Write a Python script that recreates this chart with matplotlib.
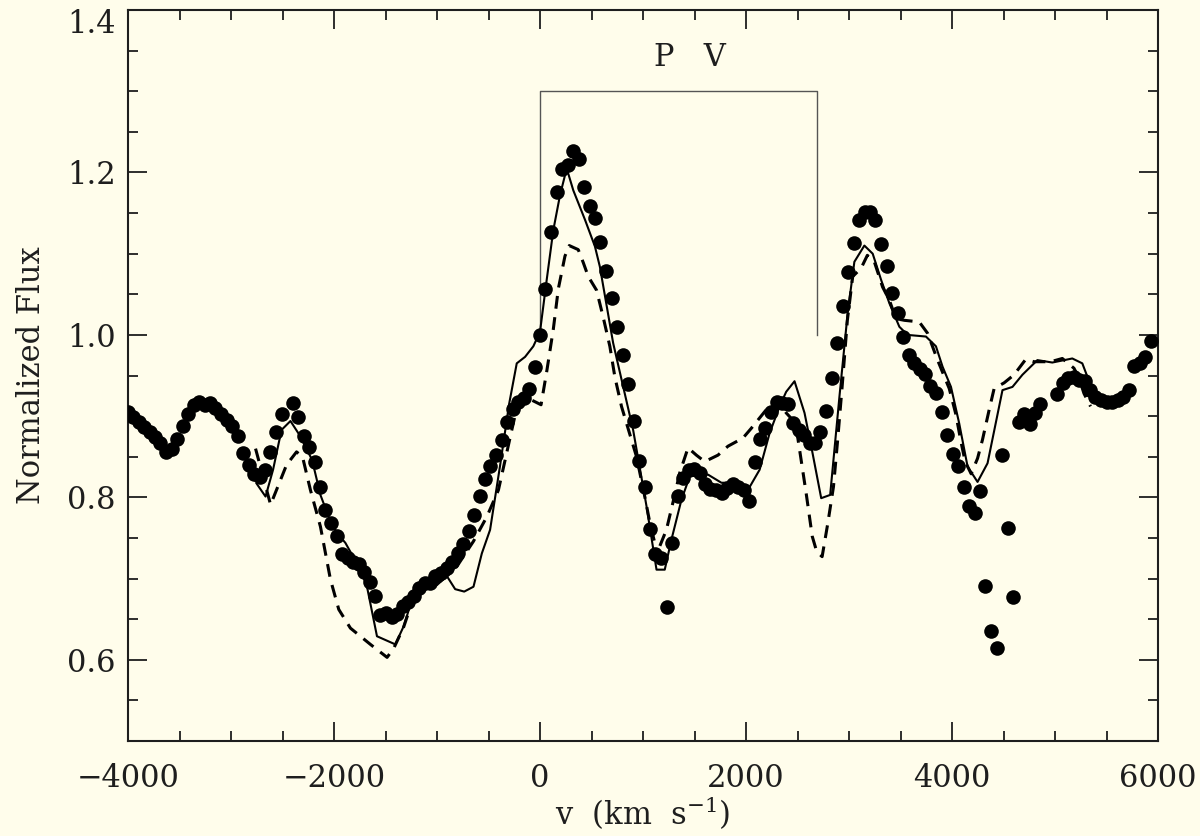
import numpy as np
import matplotlib
matplotlib.use("Agg")
import matplotlib.pyplot as plt
import matplotlib.transforms as mtransforms
from matplotlib.ticker import MultipleLocator

# Observed spectrum (filled circles), velocity in km/s and normalized flux.
ObsV = [-4005, -3952, -3898, -3845, -3791, -3738, -3685, -3631, -3578, -3524,
        -3471, -3418, -3364, -3311, -3257, -3204, -3151, -3097, -3044, -2990,
        -2937, -2884, -2830, -2777, -2723, -2670, -2617, -2563, -2510,
        -2403, -2350, -2296, -2243, -2189, -2136, -2083, -2029, -1976, -1922,
        -1869, -1816, -1762, -1709, -1655, -1602, -1549, -1495, -1442, -1388,
        -1335, -1282, -1228, -1175, -1121, -1068, -1015, -961, -908, -854,
        -801, -748, -694, -641, -587, -534, -481, -427, -374, -320,
        -267, -214, -160, -107, -53, 0, 53, 107, 160, 214,
        267, 320, 374, 427, 481, 534, 587, 641, 694, 748,
        801, 854, 908, 961, 1015, 1068, 1121, 1175, 1228, 1282,
        1335, 1388, 1442, 1495, 1549, 1602, 1655, 1709, 1762, 1816,
        1869, 1922, 1976, 2029, 2083, 2136, 2189, 2243, 2296, 2350,
        2403, 2456, 2510, 2563, 2617, 2670, 2723, 2777, 2830, 2884,
        2937, 2990, 3044, 3097, 3151, 3204, 3257, 3311, 3364, 3418,
        3471, 3524, 3578, 3631, 3685, 3738, 3791, 3845, 3898, 3952,
        4005, 4058, 4112, 4165, 4219, 4272, 4325, 4379, 4432, 4486,
        4539, 4592, 4646, 4699, 4753, 4806, 4859,
        5020, 5073, 5126, 5180, 5233, 5287, 5340, 5393, 5447, 5500,
        5554, 5607, 5660, 5714, 5767, 5821, 5874, 5928]
ObsFlux = [0.905, 0.899, 0.893, 0.887, 0.880, 0.874, 0.867, 0.856, 0.859, 0.872,
           0.888, 0.903, 0.914, 0.918, 0.914, 0.916, 0.910, 0.903, 0.895, 0.888,
           0.876, 0.855, 0.840, 0.829, 0.825, 0.834, 0.856, 0.881, 0.903,
           0.916, 0.899, 0.875, 0.862, 0.843, 0.813, 0.784, 0.769, 0.753, 0.730,
           0.725, 0.720, 0.718, 0.708, 0.696, 0.679, 0.655, 0.658, 0.653, 0.657,
           0.666, 0.671, 0.679, 0.688, 0.694, 0.694, 0.703, 0.707, 0.713, 0.721,
           0.731, 0.742, 0.758, 0.778, 0.802, 0.822, 0.839, 0.852, 0.871, 0.893,
           0.909, 0.917, 0.922, 0.934, 0.960, 1.000, 1.057, 1.127, 1.176, 1.204,
           1.209, 1.226, 1.217, 1.182, 1.159, 1.144, 1.115, 1.079, 1.045, 1.010,
           0.975, 0.939, 0.894, 0.845, 0.813, 0.761, 0.730, 0.725, 0.665, 0.744,
           0.802, 0.824, 0.834, 0.835, 0.830, 0.817, 0.810, 0.809, 0.805, 0.811,
           0.817, 0.813, 0.809, 0.795, 0.844, 0.872, 0.886, 0.905, 0.918, 0.916,
           0.915, 0.892, 0.883, 0.877, 0.867, 0.867, 0.880, 0.906, 0.947, 0.990,
           1.036, 1.078, 1.113, 1.142, 1.151, 1.151, 1.141, 1.112, 1.085, 1.051,
           1.027, 0.998, 0.975, 0.966, 0.958, 0.952, 0.937, 0.928, 0.905, 0.877,
           0.854, 0.838, 0.813, 0.789, 0.781, 0.808, 0.691, 0.635, 0.615, 0.852,
           0.762, 0.677, 0.893, 0.903, 0.890, 0.904, 0.915,
           0.927, 0.941, 0.947, 0.948, 0.945, 0.943, 0.932, 0.924, 0.920, 0.917,
           0.917, 0.920, 0.924, 0.932, 0.962, 0.965, 0.973, 0.992]

# First model (solid line).
ModelAV = [-2752, -2665, -2592, -2510, -2423, -2326, -2213, -2132, -2052, -1971,
           -1890, -1744, -1680, -1583, -1405, -1325, -1243, -1163, -1066, -1001,
           -904, -824, -736, -646, -565, -485, -388, -300, -226, -145,
           -65, 0, 65, 129, 194, 259, 323, 436, 533, 581,
           710, 904, 1034, 1131, 1211, 1276, 1373, 1454, 1631, 1761,
           1858, 2018, 2132, 2229, 2326, 2390, 2471, 2568, 2633, 2730,
           2817, 2907, 2987, 3052, 3149, 3230, 3311, 3392, 3489, 3569,
           3747, 3844, 3908, 3990, 4070, 4151, 4248, 4345, 4490, 4587,
           4684, 4829, 4974, 5168, 5265, 5313, 5349]
ModelAFlux = [0.817, 0.801, 0.834, 0.883, 0.894, 0.875, 0.846, 0.803, 0.776, 0.756,
              0.744, 0.711, 0.690, 0.629, 0.619, 0.641, 0.674, 0.686, 0.694, 0.692,
              0.703, 0.687, 0.684, 0.690, 0.731, 0.760, 0.839, 0.915, 0.965, 0.973,
              0.986, 1.004, 1.068, 1.129, 1.172, 1.205, 1.178, 1.142, 1.109, 1.084,
              0.990, 0.883, 0.789, 0.711, 0.711, 0.748, 0.797, 0.826, 0.828, 0.818,
              0.818, 0.809, 0.834, 0.879, 0.912, 0.930, 0.943, 0.904, 0.863, 0.799,
              0.803, 0.924, 1.027, 1.090, 1.110, 1.100, 1.068, 1.039, 1.010, 1.000,
              0.998, 0.986, 0.961, 0.936, 0.891, 0.838, 0.819, 0.842, 0.932, 0.936,
              0.951, 0.969, 0.966, 0.971, 0.965, 0.949, 0.932]

# Second model (dashed line).
ModelBV = [-2762, -2616, -2461, -2364, -2306, -2229, -2132, -2035, -1954, -1841,
           -1647, -1485, -1421, -1325, -1211, -1017, -904, -807, -646, -517,
           -404, -339, -274, -226, -116, 10, 65, 129, 178, 242,
           284, 371, 420, 468, 549, 613, 678, 727, 791, 937,
           1017, 1066, 1114, 1163, 1227, 1308, 1356, 1437, 1518, 1599,
           1728, 1825, 1970, 2051, 2197, 2306, 2390, 2455, 2503, 2584,
           2643, 2687, 2739, 2794, 2849, 2890, 2933, 2984, 3036, 3117,
           3178, 3246, 3326, 3391, 3456, 3537, 3682, 3763, 3860, 3973,
           4038, 4086, 4128, 4186, 4248, 4296, 4361, 4409, 4506, 4603,
           4716, 4796, 4958, 5071, 5184, 5233, 5281, 5345]
ModelBFlux = [0.860, 0.791, 0.840, 0.856, 0.850, 0.809, 0.764, 0.699, 0.662, 0.639,
              0.619, 0.603, 0.614, 0.640, 0.683, 0.692, 0.703, 0.715, 0.746, 0.776,
              0.809, 0.846, 0.883, 0.910, 0.922, 0.914, 0.955, 1.007, 1.057, 1.097,
              1.110, 1.105, 1.089, 1.072, 1.055, 1.022, 0.986, 0.948, 0.912, 0.850,
              0.801, 0.769, 0.744, 0.740, 0.760, 0.803, 0.830, 0.861, 0.852, 0.844,
              0.852, 0.863, 0.873, 0.885, 0.908, 0.920, 0.904, 0.895, 0.873, 0.805,
              0.752, 0.733, 0.727, 0.768, 0.813, 0.871, 0.936, 1.018, 1.072, 1.082,
              1.098, 1.090, 1.059, 1.043, 1.020, 1.018, 1.016, 1.002, 0.969, 0.934,
              0.902, 0.869, 0.844, 0.829, 0.848, 0.871, 0.908, 0.934, 0.941, 0.951,
              0.970, 0.967, 0.967, 0.971, 0.959, 0.947, 0.928, 0.912]

# Velocity span of the P V doublet marker.
DoubletV = [0, 2690]
DoubletTop = 1.3
DoubletBase = 1.0

YTicks = [0.6, 0.8, 1.0, 1.2, 1.4]

Cream = "#FFFDEB"
Ink = "#1e1e1e"

plt.rcParams["font.family"] = "DejaVu Serif"
plt.rcParams["mathtext.fontset"] = "dejavuserif"

Fig = plt.figure(figsize=(12, 8.36), dpi=100, facecolor=Cream)
Ax = Fig.add_axes([0.1067, 0.1136, 0.8583, 0.8744], facecolor=Cream)

Ax.plot(ModelAV, ModelAFlux, color="black", linewidth=1.5, zorder=2)
Ax.plot(ModelBV, ModelBFlux, color="black", linewidth=2.2, dashes=(4.2, 2.8), zorder=2)
Ax.plot(ObsV, ObsFlux, "o", color="black", markersize=10.5, markeredgewidth=0, zorder=3)

# Bracket over the doublet.
Ax.plot([DoubletV[0], DoubletV[0], DoubletV[1], DoubletV[1]],
        [DoubletBase, DoubletTop, DoubletTop, DoubletBase],
        color="#555555", linewidth=1.0, zorder=1)
Ax.text(np.mean(DoubletV) + 110, 1.342, "P   V", fontsize=22, ha="center", va="center", color=Ink)

Ax.set_xlim(-4000, 6000)
Ax.set_ylim(0.5, 1.4)
Ax.xaxis.set_major_locator(MultipleLocator(2000))
Ax.xaxis.set_minor_locator(MultipleLocator(500))
Ax.set_yticks(YTicks)
Ax.set_yticklabels(["%.1f" % Y for Y in YTicks])
Ax.yaxis.set_minor_locator(MultipleLocator(0.05))

Ax.tick_params(which="both", direction="in", top=True, right=True, colors=Ink, labelsize=22)
Ax.tick_params(which="major", length=14, width=1.3)
Ax.tick_params(which="minor", length=7, width=1.3)
Ax.tick_params(axis="x", which="major", pad=16)
Ax.tick_params(axis="y", which="major", pad=9)
for Spine in Ax.spines.values():
    Spine.set_linewidth(1.5)
    Spine.set_color(Ink)

# Nudge the top y label down so it stays inside the canvas.
TopLabel = Ax.get_yticklabels()[-1]
TopLabel.set_transform(TopLabel.get_transform() +
                       mtransforms.ScaledTranslation(0, -11 / 100, Fig.dpi_scale_trans))

Ax.set_xlabel(r"v  (km  s$^{-1}$)", fontsize=22, color=Ink, labelpad=0)
Ax.set_ylabel("Normalized Flux", fontsize=22, color=Ink, labelpad=14)

Fig.savefig("out.png", dpi=100, facecolor=Cream)
